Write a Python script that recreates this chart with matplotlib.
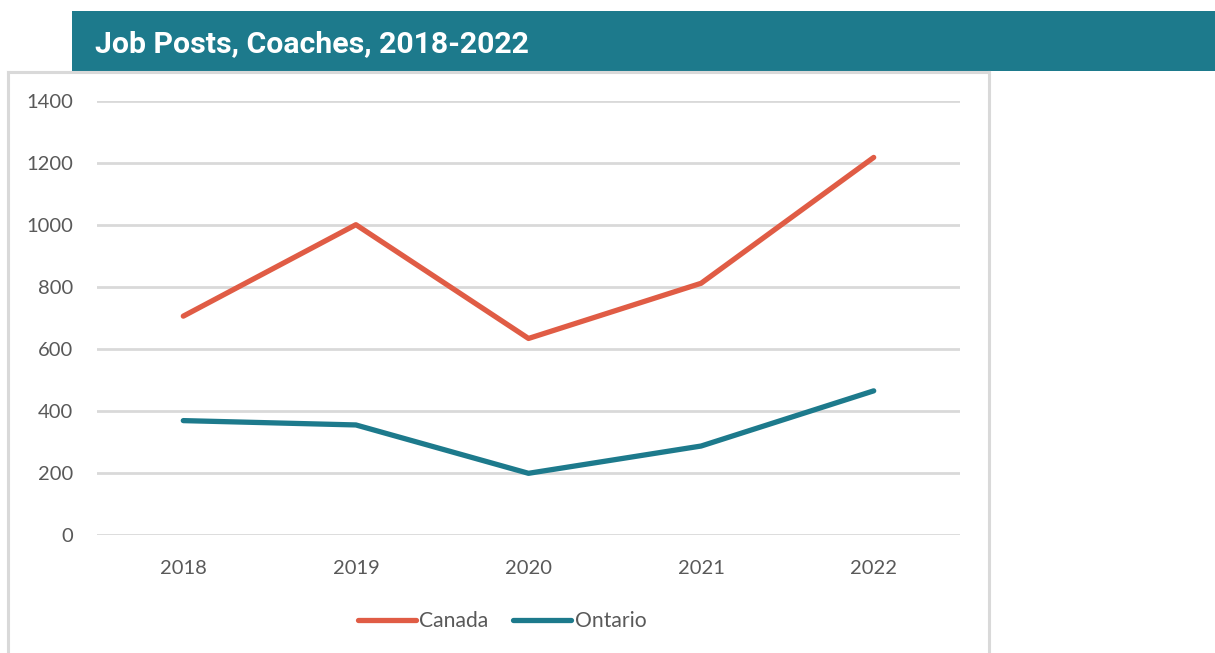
"""Job Posts, Coaches, 2018-2022 — Canada vs Ontario line chart."""
import matplotlib
matplotlib.use("Agg")
import matplotlib.pyplot as plt
from matplotlib.patches import Rectangle
from matplotlib.lines import Line2D

years = ["2018", "2019", "2020", "2021", "2022"]
canada = [706, 1001, 634, 812, 1218]
ontario = [369, 355, 199, 287, 465]
y_ticks = [0, 200, 400, 600, 800, 1000, 1200, 1400]

TEAL = "#1D7A8C"
RED = "#E05C45"
GRID = "#D9D9D9"
TXT = "#595959"

W, H = 1215, 653
fig = plt.figure(figsize=(W / 100, H / 100), dpi=100)

# title banner + chart frame (pixel coords -> figure fraction)
fig.add_artist(Rectangle((72 / W, 1 - 71 / H), (W - 72) / W, 60 / H,
                         transform=fig.transFigure, color=TEAL, lw=0))
fig.text(95 / W, 1 - 52 / H, "Job Posts, Coaches, 2018-2022", color="white",
         fontsize=21.8, fontweight="bold", family="Roboto", va="baseline")
frame = dict(color=GRID, lw=2.2, transform=fig.transFigure)
fig.add_artist(Line2D([8 / W, 989 / W], [1 - 72 / H] * 2, **frame))
fig.add_artist(Line2D([8 / W] * 2, [0, 1 - 72 / H], **frame))
fig.add_artist(Line2D([989 / W] * 2, [0, 1 - 72 / H], **frame))

ax = fig.add_axes([97 / W, (H - 535) / H, 863 / W, 434 / H])
x = range(len(years))
ax.plot(x, canada, color=RED, lw=3.8, solid_capstyle="round", label="Canada")
ax.plot(x, ontario, color=TEAL, lw=3.8, solid_capstyle="round", label="Ontario")

ax.set_xlim(-0.5, len(years) - 0.5)
ax.set_ylim(0, 1400)
ax.set_yticks(y_ticks)
ax.set_xticks(list(x))
ax.set_xticklabels(years)
ax.grid(axis="y", color=GRID, lw=2)
ax.set_axisbelow(True)
for s in ax.spines.values():
    s.set_visible(False)
ax.tick_params(length=0, labelsize=14.5, labelcolor=TXT, labelfontfamily="Lato")
ax.tick_params(axis="y", pad=17)
ax.tick_params(axis="x", pad=18)

leg = fig.legend(loc="center", bbox_to_anchor=(502 / W, 1 - 621 / H), ncol=2,
                 frameon=False, handlelength=2.75, handletextpad=0.15,
                 columnspacing=1.2, prop={"family": "Lato", "size": 15.2})
for t in leg.get_texts():
    t.set_color(TXT)

fig.savefig("out.png", dpi=100)
